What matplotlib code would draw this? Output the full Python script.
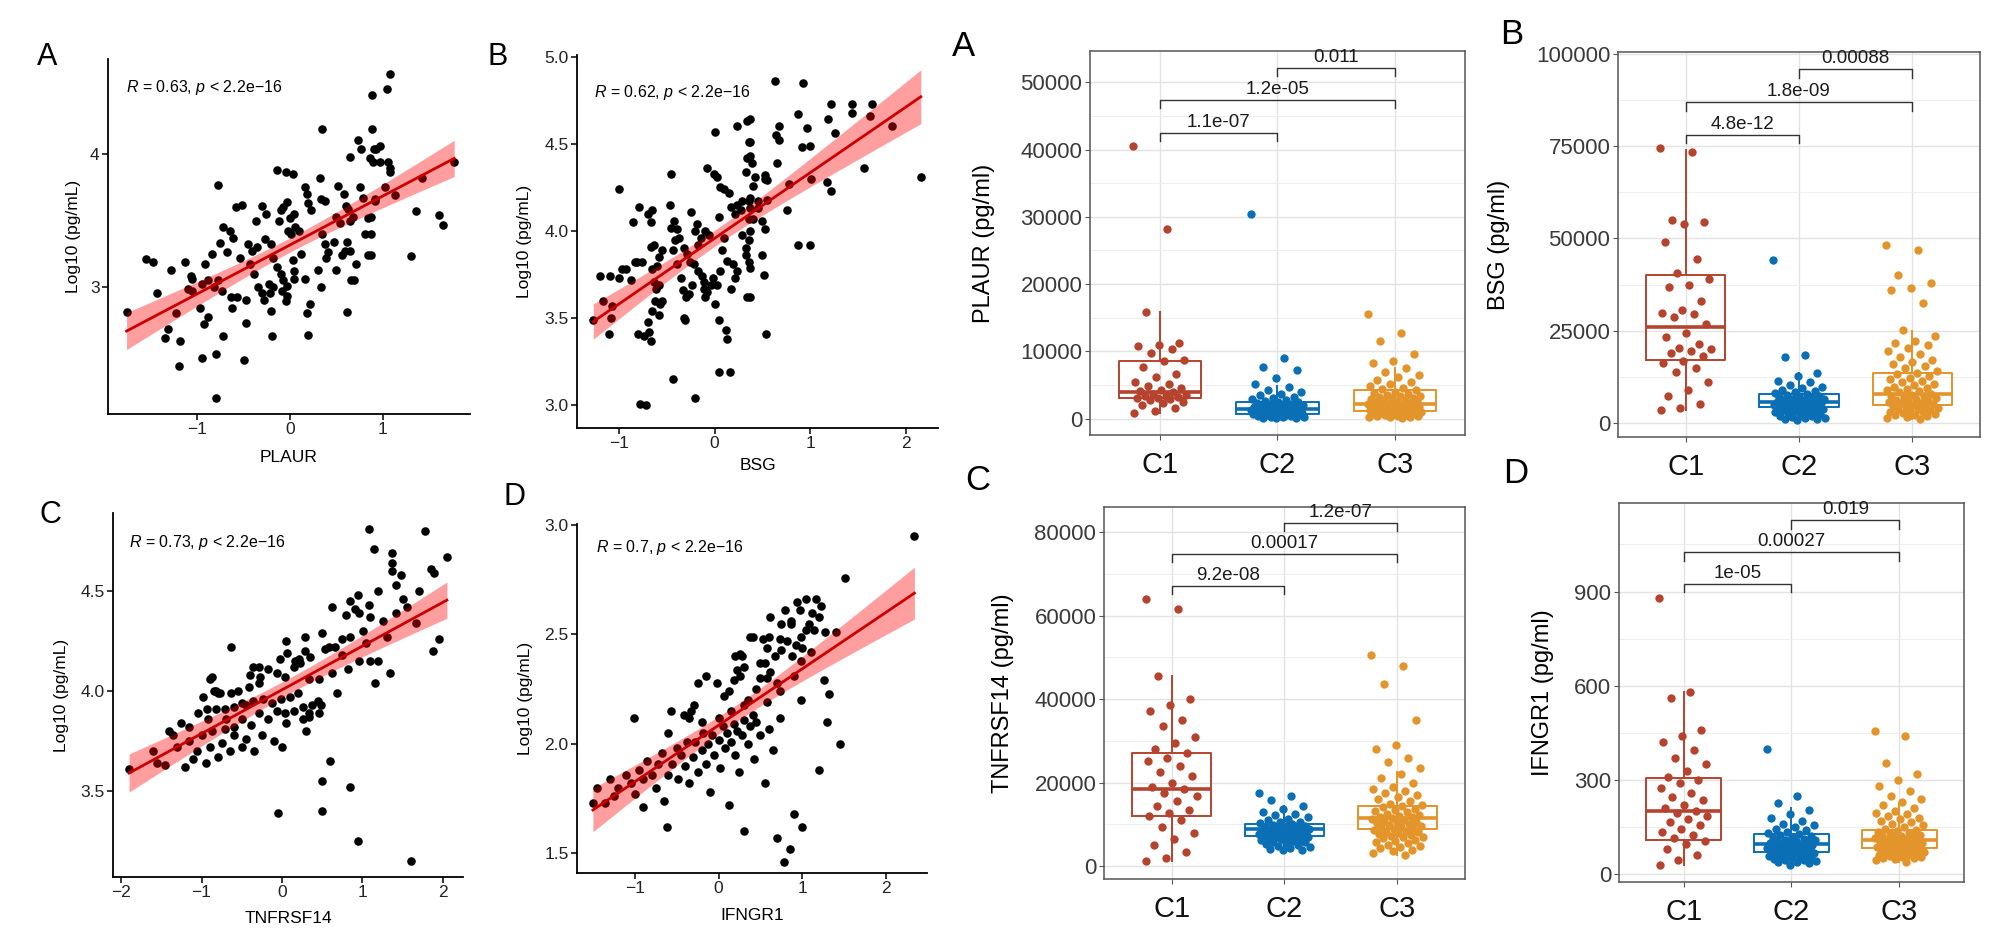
import numpy as np
import matplotlib.pyplot as plt
from matplotlib.ticker import MultipleLocator

plt.rcParams["font.family"] = ["Liberation Sans", "DejaVu Sans"]
plt.rcParams["mathtext.fontset"] = "custom"
plt.rcParams["mathtext.rm"] = "Liberation Sans"
plt.rcParams["mathtext.it"] = "Liberation Sans:italic"

# ---------------- scatter data (x = score, y = Log10 pg/mL) ----------------
plaur_pts = [
    (-1.76, 2.81), (-1.55, 3.21), (-1.47, 3.19), (-1.43, 2.95), (-1.28, 3.13), (-1.31, 2.68), (-1.35, 2.61),
    (-1.18, 2.59), (-1.19, 2.40), (-1.23, 2.80), (-1.13, 3.19), (-1.07, 3.08), (-1.05, 3.06), (-0.97, 2.84),
    (-0.93, 2.72), (-0.88, 2.77), (-0.95, 2.46), (-0.80, 2.49), (-0.91, 3.17), (-0.84, 3.25), (-0.77, 3.77),
    (-0.72, 3.45), (-0.75, 3.33), (-0.68, 3.26), (-0.65, 3.42), (-0.61, 3.37), (-0.77, 3.05), (-0.73, 2.97),
    (-0.72, 2.63), (-0.63, 2.92), (-0.57, 2.92), (-0.62, 2.84), (-0.58, 3.60), (-0.52, 3.62), (-0.54, 3.22),
    (-0.50, 2.45), (-0.47, 2.73), (-0.47, 2.90), (-0.45, 3.32), (-0.41, 3.27), (-0.36, 3.30), (-0.37, 3.50),
    (-0.43, 3.17), (-0.39, 3.10), (-0.34, 3.00), (-0.30, 2.95), (-0.28, 2.90), (-0.30, 3.61), (-0.26, 3.55),
    (-0.27, 3.36), (-0.20, 3.32), (-0.18, 3.22), (-0.19, 2.63), (-0.20, 2.82), (-0.23, 3.02), (-0.21, 2.95),
    (-0.18, 3.00), (-0.14, 3.88), (-0.04, 3.87), (0.03, 3.85), (-0.12, 3.50), (-0.10, 3.58), (-0.07, 3.60),
    (-0.03, 3.64), (0.00, 3.52), (0.04, 3.55), (-0.02, 3.42), (0.01, 3.40), (0.06, 3.45), (0.10, 3.42),
    (-0.10, 3.10), (-0.07, 3.05), (-0.03, 3.01), (-0.09, 2.97), (-0.03, 2.93), (-0.14, 3.15), (-0.04, 2.89),
    (0.03, 3.20), (0.04, 3.12), (0.04, 3.06), (0.12, 3.25), (0.16, 3.06), (0.22, 2.87), (0.18, 2.80),
    (0.20, 2.64), (0.16, 3.75), (0.18, 3.70), (0.20, 3.63), (0.23, 3.58), (0.32, 3.82), (0.35, 4.19),
    (0.34, 3.66), (0.38, 3.65), (0.35, 3.40), (0.38, 3.32), (0.41, 3.26), (0.47, 3.34), (0.30, 3.13),
    (0.34, 3.00), (0.39, 3.22), (0.50, 3.13), (0.52, 3.76), (0.58, 3.70), (0.60, 3.61), (0.63, 3.59),
    (0.50, 3.53), (0.54, 3.48), (0.65, 3.50), (0.68, 3.53), (0.56, 3.24), (0.61, 3.34), (0.65, 3.27),
    (0.59, 3.27), (0.61, 2.81), (0.66, 3.05), (0.69, 3.05), (0.71, 3.17), (0.65, 3.98), (0.73, 4.11),
    (0.77, 4.04), (0.75, 3.75), (0.79, 3.67), (0.81, 3.40), (0.84, 3.52), (0.84, 3.24), (0.88, 4.45),
    (0.88, 4.19), (0.86, 3.97), (0.91, 4.04), (0.92, 3.66), (1.08, 4.61), (1.05, 4.49), (0.93, 4.04),
    (0.97, 4.06), (0.89, 3.94), (0.97, 3.94), (1.06, 3.94), (1.08, 3.90), (1.08, 3.87), (1.02, 3.75),
    (0.92, 3.65), (1.13, 3.69), (1.42, 3.82), (1.36, 3.57), (1.61, 3.54), (1.65, 3.47), (1.30, 3.23),
    (1.77, 3.94), (0.87, 3.53), (0.87, 3.40), (0.87, 3.24), (-0.80, 2.16), (-1.05, 2.97), (-0.95, 3.02),
    (-0.88, 3.05), (-0.82, 3.00), (-1.10, 2.98),
]

bsg_pts = [
    (-1.27, 3.49), (-1.20, 3.74), (-1.17, 3.60), (-1.09, 3.74), (-1.00, 3.73), (-1.08, 3.50), (-1.10, 3.41),
    (-1.00, 4.24), (-1.07, 3.57), (-0.97, 3.78), (-0.93, 3.78), (-0.87, 3.72), (-0.83, 3.82), (-0.85, 4.05),
    (-0.79, 4.14), (-0.81, 3.82), (-0.76, 3.82), (-0.80, 3.41), (-0.74, 3.40), (-0.69, 3.42), (-0.67, 3.37),
    (-0.70, 3.48), (-0.65, 3.54), (-0.62, 3.60), (-0.70, 4.10), (-0.65, 4.12), (-0.67, 4.05), (-0.67, 3.91),
    (-0.63, 3.92), (-0.65, 3.78), (-0.60, 3.80), (-0.58, 3.85), (-0.55, 3.89), (-0.63, 3.71), (-0.61, 3.67),
    (-0.58, 3.69), (-0.57, 3.58), (-0.58, 3.52), (-0.55, 3.60), (-0.46, 4.33), (-0.47, 4.15), (-0.43, 3.15),
    (-0.46, 4.02), (-0.42, 4.06), (-0.39, 4.01), (-0.41, 3.95), (-0.44, 3.89), (-0.39, 3.81), (-0.35, 3.73),
    (-0.33, 3.66), (-0.37, 3.96), (-0.32, 3.90), (-0.29, 3.87), (-0.26, 3.82), (-0.32, 3.50), (-0.30, 3.62),
    (-0.27, 3.64), (-0.24, 3.69), (-0.31, 3.49), (-0.25, 4.11), (-0.18, 4.04), (-0.20, 4.00), (-0.14, 3.96),
    (-0.22, 3.81), (-0.17, 3.77), (-0.13, 3.74), (-0.11, 3.71), (-0.11, 3.67), (-0.17, 3.92), (-0.10, 4.00),
    (-0.06, 3.98), (-0.10, 3.62), (-0.08, 3.65), (-0.04, 3.69), (-0.02, 3.73), (0.01, 4.57), (-0.08, 4.36),
    (-0.01, 4.33), (0.03, 4.31), (0.06, 4.25), (0.10, 4.24), (0.15, 4.22), (0.17, 4.14), (0.21, 4.10),
    (0.24, 4.15), (0.28, 4.12), (0.05, 4.08), (0.10, 3.96), (0.08, 3.89), (0.13, 3.83), (0.19, 3.81),
    (0.06, 3.77), (0.03, 3.69), (0.01, 3.58), (0.05, 3.49), (0.12, 3.43), (0.13, 3.38), (0.05, 3.19),
    (0.16, 3.19), (0.17, 3.67), (0.21, 3.73), (0.24, 3.77), (0.24, 4.60), (0.34, 4.63), (0.36, 4.51),
    (0.34, 4.42), (0.33, 4.34), (0.36, 4.17), (0.36, 4.07), (0.36, 3.95), (0.36, 3.82), (0.34, 3.62),
    (0.63, 4.86), (0.93, 4.85), (1.22, 4.73), (1.44, 4.73), (1.65, 4.73), (1.44, 4.68), (0.87, 4.67),
    (1.19, 4.64), (0.97, 4.59), (1.26, 4.56), (1.63, 4.66), (0.68, 4.60), (0.64, 4.55), (0.68, 4.52),
    (0.92, 4.48), (1.00, 4.49), (0.37, 4.64), (0.37, 4.51), (0.37, 4.43), (0.39, 4.39), (0.65, 4.39),
    (0.42, 4.31), (0.53, 4.32), (0.55, 4.29), (0.40, 4.26), (0.53, 4.30), (0.78, 4.27), (1.01, 4.30),
    (1.18, 4.28), (1.22, 4.23), (0.37, 4.19), (0.45, 4.17), (0.55, 4.18), (0.37, 4.13), (0.46, 4.13),
    (0.40, 4.07), (0.50, 4.06), (0.76, 4.12), (0.37, 4.00), (0.53, 4.01), (0.33, 3.90), (0.87, 3.92),
    (1.00, 3.92), (1.56, 4.36), (1.86, 4.60), (2.16, 4.31), (0.37, 3.79), (0.52, 3.75), (0.50, 3.86),
    (0.33, 3.86), (0.54, 3.41), (0.37, 3.62), (0.29, 4.17), (0.29, 3.98), (-0.78, 3.01), (-0.72, 3.00),
    (-0.20, 3.04),
]

tnfrsf14_pts = [
    (1.08, 4.81), (1.78, 4.80), (2.05, 4.67), (1.14, 4.71), (1.37, 4.69), (1.37, 4.64), (1.37, 4.60),
    (1.48, 4.58), (1.42, 4.53), (1.85, 4.61), (1.89, 4.59), (1.19, 4.50), (0.62, 4.42), (0.84, 4.45),
    (0.95, 4.48), (1.08, 4.43), (1.10, 4.37), (0.96, 4.39), (0.91, 4.41), (0.80, 4.38), (1.42, 4.39),
    (1.56, 4.42), (1.67, 4.34), (1.95, 4.26), (1.88, 4.20), (0.05, 4.25), (0.29, 4.27), (0.50, 4.29),
    (0.74, 4.26), (0.85, 4.27), (1.01, 4.30), (0.96, 4.15), (1.09, 4.15), (1.19, 4.15), (1.34, 4.09),
    (1.16, 4.04), (0.69, 3.99), (0.82, 4.11), (0.62, 4.09), (0.34, 4.06), (0.46, 4.06), (0.29, 4.20),
    (0.21, 4.16), (0.35, 4.17), (0.53, 4.21), (0.58, 4.22), (0.66, 4.22), (0.49, 3.93), (0.46, 3.89),
    (0.34, 3.87), (0.26, 3.86), (-0.63, 4.22), (-0.29, 4.12), (-0.27, 4.07), (-0.40, 4.08), (-0.36, 4.12),
    (-0.17, 4.11), (-0.06, 4.09), (0.04, 4.07), (0.15, 4.12), (0.23, 4.14), (-0.02, 4.16), (0.06, 4.19),
    (0.16, 4.15), (-0.87, 4.07), (-0.98, 3.97), (-0.82, 4.00), (-0.77, 3.99), (-0.63, 3.99), (-0.55, 4.00),
    (-0.41, 4.02), (-0.28, 4.04), (-1.04, 3.89), (-0.93, 3.91), (-0.82, 3.91), (-0.71, 3.91), (-0.60, 3.92),
    (-0.50, 3.94), (-0.36, 3.95), (-0.23, 3.96), (-0.12, 3.94), (-0.01, 3.96), (0.10, 3.97), (0.20, 3.99),
    (-0.28, 3.89), (-0.17, 3.86), (-0.06, 3.90), (0.04, 3.89), (0.15, 3.90), (0.26, 3.92), (0.37, 3.93),
    (0.45, 3.95), (0.05, 3.84), (0.34, 3.89), (-0.50, 3.86), (-0.39, 3.83), (-0.60, 3.82), (-0.71, 3.81),
    (-0.87, 3.80), (-0.92, 3.86), (-0.90, 4.06), (-0.85, 4.00), (-0.80, 3.99), (-1.90, 3.61), (-1.55, 3.64),
    (-1.45, 3.63), (-1.20, 3.62), (-1.30, 3.72), (-1.15, 3.75), (-1.05, 3.70), (-1.00, 3.78), (-0.90, 3.72),
    (-0.80, 3.67), (-0.75, 3.74), (-0.65, 3.70), (-0.60, 3.78), (-0.50, 3.72), (-0.45, 3.76), (-0.35, 3.70),
    (-0.25, 3.78), (-0.10, 3.75), (0.00, 3.72), (0.30, 3.80), (-1.10, 3.66), (-0.95, 3.64), (-1.60, 3.70),
    (-1.35, 3.78), (-1.25, 3.84), (-1.15, 3.82), (-1.40, 3.80), (0.50, 3.55), (0.50, 3.40), (-0.05, 3.39),
    (0.85, 3.52), (0.95, 3.25), (1.60, 3.15), (0.60, 3.65), (1.50, 4.46), (1.70, 4.50), (1.25, 4.35),
    (1.30, 4.27), (1.05, 4.24), (0.75, 4.18), (-0.45, 3.93), (-0.70, 3.86),
]

ifngr1_pts = [
    (-1.01, 2.12), (-0.57, 2.15), (-0.41, 2.13), (-0.33, 2.15), (-0.29, 2.18), (-0.25, 2.28), (-0.15, 2.31),
    (-0.02, 2.28), (0.06, 2.22), (0.12, 2.24), (0.18, 2.29), (0.20, 2.40), (0.28, 2.40), (0.22, 2.34),
    (0.26, 2.31), (0.30, 2.35), (0.30, 2.18), (0.38, 2.49), (2.34, 2.95), (1.51, 2.76), (0.94, 2.65),
    (1.04, 2.66), (1.16, 2.66), (0.80, 2.61), (0.97, 2.61), (0.87, 2.56), (1.20, 2.58), (1.14, 2.52),
    (1.04, 2.52), (0.99, 2.49), (0.75, 2.55), (0.87, 2.55), (1.27, 2.51), (1.40, 2.51), (0.41, 2.49),
    (0.60, 2.49), (0.73, 2.48), (0.53, 2.48), (0.75, 2.43), (0.88, 2.40), (0.99, 2.38), (0.58, 2.44),
    (0.26, 2.41), (0.55, 2.37), (0.50, 2.37), (0.58, 2.30), (1.26, 2.29), (1.32, 2.23), (0.99, 2.20),
    (0.74, 2.24), (0.58, 2.19), (0.41, 2.13), (0.74, 2.12), (-1.50, 1.73), (-1.45, 1.80), (-1.30, 1.84),
    (-1.25, 1.76), (-1.20, 1.80), (-1.10, 1.86), (-1.05, 1.82), (-1.00, 1.77), (-0.95, 1.88), (-0.90, 1.84),
    (-0.85, 1.92), (-0.80, 1.86), (-0.75, 1.80), (-0.72, 1.91), (-0.68, 1.96), (-0.65, 1.74), (-0.60, 1.86),
    (-0.55, 1.91), (-0.50, 1.98), (-0.48, 1.84), (-0.45, 1.95), (-0.40, 1.90), (-0.38, 2.01), (-0.35, 1.82),
    (-0.30, 1.94), (-0.28, 2.01), (-0.25, 1.87), (-0.20, 1.97), (-0.18, 2.05), (-0.15, 1.91), (-0.12, 2.00),
    (-0.10, 1.78), (-0.08, 2.04), (-0.05, 1.95), (0.00, 2.02), (0.02, 1.89), (0.05, 2.08), (0.08, 1.98),
    (0.10, 2.05), (0.12, 1.72), (0.15, 2.01), (0.18, 2.09), (0.20, 1.95), (0.22, 2.06), (0.25, 1.87),
    (0.28, 2.04), (0.30, 2.11), (0.35, 2.00), (0.38, 2.08), (0.42, 1.93), (0.45, 2.10), (0.50, 2.04),
    (0.55, 1.82), (0.60, 2.07), (0.65, 1.97), (-0.62, 1.62), (-0.90, 1.71), (-1.35, 1.73), (0.30, 1.60),
    (0.70, 1.57), (0.85, 1.52), (1.00, 1.62), (0.78, 1.46), (1.20, 1.88), (1.45, 2.00), (0.90, 1.68),
    (1.30, 2.10), (-0.60, 2.05), (-0.35, 2.12), (0.45, 2.25), (0.62, 2.33), (0.68, 2.40), (0.82, 2.47),
    (0.92, 2.45), (1.08, 2.55), (1.12, 2.60), (1.22, 2.63), (0.70, 2.28), (0.50, 2.30), (0.90, 2.31),
    (1.10, 2.42), (0.35, 2.20), (0.15, 2.15), (0.00, 2.12), (-0.20, 2.10), (0.62, 2.58), (1.00, 2.44),
]

scatter_names = ["PLAUR", "BSG", "TNFRSF14", "IFNGR1"]
scatter_r = ["0.63", "0.62", "0.73", "0.7"]

# ---------------- box plot data (pg/ml) per cluster ----------------
groups = ["C1", "C2", "C3"]
colors = ["#B5432E", "#0A6FB4", "#E3942A"]

plaur_c1 = [40500, 28200, 15900, 11200, 11000, 10800, 10400, 9800, 8700, 8500, 7600, 6700, 6200, 5500, 5200,
            4800, 4500, 4300, 4100, 3900, 3700, 3500, 3400, 3300, 3200, 3100, 3000, 2900, 2700, 2500, 2300,
            2000, 1600, 1200, 800]
plaur_c2 = [30400, 9000, 7700, 7300, 6000, 5200, 4700, 4300, 4000, 3700, 3500, 3200, 3000, 2900, 2800, 2600,
            2500, 2400, 2300, 2200, 2100, 2000, 1950, 1900, 1850, 1800, 1700, 1650, 1600, 1550, 1500, 1450,
            1400, 1350, 1300, 1250, 1200, 1150, 1100, 1050, 1000, 950, 900, 850, 800, 750, 700, 650, 600, 550,
            500, 450, 400, 350, 300, 250, 200, 150, 100, 50]
plaur_c3 = [15500, 12800, 11500, 9600, 8600, 8200, 7500, 7000, 6500, 6200, 5800, 5500, 5200, 4900, 4600, 4400,
            4200, 4000, 3800, 3600, 3500, 3400, 3300, 3200, 3100, 3000, 2900, 2800, 2700, 2600, 2500, 2400,
            2300, 2200, 2100, 2050, 2000, 1950, 1900, 1800, 1750, 1700, 1650, 1600, 1500, 1450, 1400, 1350,
            1300, 1250, 1200, 1150, 1100, 1050, 1000, 950, 900, 850, 800, 700, 650, 600, 500, 450, 400, 350,
            300, 250, 200, 100]

bsg_c1 = [74500, 73300, 55000, 54500, 54000, 49000, 44500, 40500, 39000, 37500, 36800, 33000, 30500, 29800,
          29500, 28800, 26800, 24500, 23200, 21500, 20300, 20000, 19600, 19000, 18200, 16800, 16200, 15000,
          13800, 11000, 9000, 7200, 5200, 4200, 3600]
bsg_c2 = [44000, 18500, 17800, 13500, 12800, 11500, 11000, 10200, 9800, 9500, 9000, 8700, 8400, 8100, 7900,
          7600, 7400, 7200, 7000, 6800, 6600, 6500, 6300, 6200, 6000, 5900, 5800, 5600, 5500, 5400, 5200, 5100,
          5000, 4900, 4800, 4600, 4500, 4400, 4300, 4200, 4000, 3900, 3800, 3600, 3500, 3300, 3200, 3000, 2800,
          2600, 2400, 2200, 2000, 1800, 1600, 1500, 1300, 1200, 1000, 900]
bsg_c3 = [48300, 46800, 40200, 37800, 36500, 36000, 32400, 25200, 23500, 22200, 21800, 21000, 20200, 19500,
          18800, 18000, 17200, 16500, 16000, 15500, 14800, 14200, 13600, 13200, 12800, 12300, 11800, 11400,
          11000, 10600, 10200, 9800, 9500, 9200, 8900, 8600, 8300, 8000, 7700, 7400, 7200, 7000, 6800, 6500,
          6300, 6100, 5900, 5700, 5500, 5300, 5100, 4900, 4700, 4500, 4300, 4100, 3900, 3700, 3500, 3300, 3100,
          2900, 2700, 2500, 2300, 2100, 1900, 1700, 1500, 1200]

tnf_c1 = [64000, 61500, 45500, 40000, 38500, 37200, 35000, 33500, 31000, 29500, 28000, 27000, 26000, 25200,
          24000, 22500, 21500, 20000, 19000, 18500, 17500, 16800, 15500, 14500, 13500, 12800, 12000, 11000,
          9500, 8000, 6500, 5000, 3500, 2000, 1200]
tnf_c2 = [17500, 16800, 15800, 14500, 13800, 13000, 12600, 12200, 11800, 11400, 11000, 10700, 10500, 10300,
          10100, 9900, 9700, 9600, 9400, 9300, 9100, 9000, 8900, 8800, 8700, 8600, 8500, 8400, 8300, 8200, 8100,
          8000, 7900, 7800, 7700, 7600, 7500, 7400, 7300, 7200, 7100, 7000, 6900, 6800, 6700, 6600, 6500, 6300,
          6100, 5900, 5700, 5500, 5300, 5000, 4800, 4600, 4400, 4200, 4000, 3800]
tnf_c3 = [50500, 48000, 43500, 35000, 29000, 28000, 26000, 25000, 23500, 22000, 21000, 20000, 19000, 18500,
          18000, 17500, 17000, 16500, 16000, 15500, 15000, 14700, 14400, 14100, 13800, 13500, 13200, 12900,
          12600, 12300, 12100, 11900, 11700, 11500, 11300, 11100, 10900, 10700, 10500, 10300, 10100, 9900,
          9700, 9500, 9300, 9100, 8900, 8700, 8500, 8300, 8100, 7900, 7700, 7500, 7300, 7100, 6900, 6700, 6400,
          6100, 5800, 5500, 5200, 4900, 4600, 4300, 4000, 3600, 3200, 2800]

ifn_c1 = [880, 580, 560, 460, 440, 420, 395, 370, 350, 330, 310, 300, 290, 275, 260, 245, 235, 220, 210, 200,
          195, 185, 175, 165, 155, 145, 135, 125, 115, 105, 95, 80, 60, 45, 30]
ifn_c2 = [400, 250, 225, 205, 190, 180, 170, 160, 155, 150, 145, 140, 135, 130, 127, 124, 121, 118, 115, 112,
          110, 108, 106, 104, 102, 100, 98, 96, 95, 94, 92, 90, 88, 86, 84, 82, 80, 78, 76, 74, 72, 70, 68, 66,
          64, 62, 60, 58, 56, 54, 52, 50, 48, 46, 44, 42, 40, 38, 35, 30]
ifn_c3 = [455, 440, 355, 320, 300, 280, 265, 250, 240, 230, 220, 210, 200, 195, 190, 185, 180, 175, 170, 165,
          160, 155, 150, 145, 140, 137, 134, 131, 128, 125, 122, 120, 118, 116, 114, 112, 110, 108, 106, 104,
          102, 100, 98, 96, 94, 92, 90, 88, 86, 84, 82, 80, 78, 76, 74, 72, 70, 68, 66, 64, 62, 60, 58, 56, 54,
          52, 50, 48, 45, 40]

# box stats: (whisker low, q1, median, q3, whisker high)
plaur_stats = [(800, 3000, 4000, 8600, 15900), (50, 700, 1400, 2400, 4800), (100, 1100, 2100, 4200, 7500)]
bsg_stats = [(3600, 17000, 26000, 40200, 74000), (900, 4300, 5800, 8000, 13500), (1200, 5000, 8000, 13600, 25000)]
tnf_stats = [(1200, 12000, 18500, 27000, 45500), (3800, 7300, 8800, 10200, 14500), (2800, 9000, 11500, 14500, 22500)]
ifn_stats = [(30, 110, 200, 305, 580), (30, 72, 95, 128, 210), (40, 82, 110, 140, 225)]

pairs = [(1, 2), (1, 3), (2, 3)]
plaur_pvals = ["1.1e-07", "1.2e-05", "0.011"]
plaur_brk = [42540, 47440, 52140]
bsg_pvals = ["4.8e-12", "1.8e-09", "0.00088"]
bsg_brk = [77980, 86850, 95800]
tnf_pvals = ["9.2e-08", "0.00017", "1.2e-07"]
tnf_brk = [67100, 74670, 82150]
ifn_pvals = ["1e-05", "0.00027", "0.019"]
ifn_brk = [924, 1025, 1127]

W, H = 2006, 938
fig = plt.figure(figsize=(W / 100, H / 100), dpi=100)


def px_axes(l, t, r, b):
    return fig.add_axes([l / W, 1 - b / H, (r - l) / W, (b - t) / H])


def scatter_panel(ax, pts, name, r, xlim, ylim, xticks, yticks, yfmt, ylab_x, xlab_y, rpos):
    x, y = np.array(pts).T
    ax.scatter(x, y, s=38, color="black", linewidths=0, zorder=2)
    b, a = np.polyfit(x, y, 1)
    xs = np.linspace(x.min(), x.max(), 100)
    n = len(x)
    s = np.sqrt(np.sum((y - (a + b * x)) ** 2) / (n - 2))
    se = s * np.sqrt(1 / n + (xs - x.mean()) ** 2 / np.sum((x - x.mean()) ** 2))
    ax.fill_between(xs, a + b * xs - 1.97 * se, a + b * xs + 1.97 * se, color="red", alpha=0.38, lw=0, zorder=3)
    ax.plot(xs, a + b * xs, color="#CC0000", lw=2.0, zorder=4)
    ax.set_xlim(*xlim)
    ax.set_ylim(*ylim)
    ax.set_xticks(xticks)
    ax.set_yticks(yticks)
    ax.set_yticklabels([yfmt.format(v) for v in yticks])
    for sp in ["top", "right"]:
        ax.spines[sp].set_visible(False)
    for sp in ["left", "bottom"]:
        ax.spines[sp].set_linewidth(1.3)
    ax.tick_params(length=4, width=1.1, pad=2, labelsize=12.5, labelcolor="#222222")
    ax.set_xlabel(name, fontsize=12.5)
    ax.set_ylabel("Log10 (pg/mL)", fontsize=12.5)
    ax.yaxis.set_label_coords(ylab_x, 0.5)
    ax.xaxis.set_label_coords(0.5, xlab_y)
    ax.text(rpos[0], rpos[1], r"$\it{R}$ = " + r + r", $\it{p}$ < 2.2e−16", transform=ax.transAxes,
            fontsize=11.5, ha="left", va="center")


def box_panel(ax, data, stats, ylim, step, ylabel, brk, pvals, ylab_x):
    for i, (vals, st, col) in enumerate(zip(data, stats, colors), start=1):
        off = (((np.arange(len(vals)) * 0.6180339887) % 1) - 0.5) * 0.46
        ax.scatter(i + off, vals, s=36, color=col, linewidths=0, zorder=2)
        ax.bxp([dict(whislo=st[0], q1=st[1], med=st[2], q3=st[3], whishi=st[4], fliers=[])],
               positions=[i], widths=0.7, showfliers=False, showcaps=False, zorder=3,
               boxprops=dict(color=col, lw=1.4), whiskerprops=dict(color=col, lw=1.4),
               medianprops=dict(color=col, lw=2.6))
    span = ylim[1] - ylim[0]
    tip = 0.022 * span
    for (g1, g2), h, lab in zip(pairs, brk, pvals):
        ax.plot([g1, g1, g2, g2], [h - tip, h, h, h - tip], color="#333333", lw=1.0, zorder=4)
        ax.annotate(lab, ((g1 + g2) / 2, h), xytext=(0, 7.6), textcoords="offset points",
                    ha="center", va="center", fontsize=13.5, color="#1A1A1A")
    ax.set_xlim(0.4, 3.6)
    ax.set_ylim(*ylim)
    ax.set_xticks([1, 2, 3])
    ax.set_xticklabels(groups)
    ax.yaxis.set_major_locator(MultipleLocator(step))
    ax.yaxis.set_minor_locator(MultipleLocator(step / 2))
    ax.grid(True, which="major", color="#E3E3E3", lw=1.0)
    ax.grid(True, which="minor", axis="y", color="#EEEEEE", lw=0.7)
    ax.set_axisbelow(True)
    for sp in ax.spines.values():
        sp.set_color("#555555")
        sp.set_linewidth(1.1)
    ax.tick_params(axis="y", which="major", length=3.5, color="#555555", pad=2, labelsize=16,
                   labelcolor="#3A3A3A")
    ax.tick_params(axis="y", which="minor", length=0)
    ax.tick_params(axis="x", length=3.5, color="#555555", pad=8, labelsize=21, labelcolor="#111111")
    ax.set_ylabel(ylabel, fontsize=17)
    ax.yaxis.set_label_coords(ylab_x, 0.5)


# ---------------- scatter panels ----------------
axA = px_axes(108, 59, 470, 414)
scatter_panel(axA, plaur_pts, scatter_names[0], scatter_r[0], (-1.96, 1.94), (2.04, 4.72),
              [-1, 0, 1], [3, 4], "{:.0f}", -0.075, -0.10, (0.05, 0.921))
axB = px_axes(577, 55, 938, 428)
scatter_panel(axB, bsg_pts, scatter_names[1], scatter_r[1], (-1.44, 2.34), (2.87, 5.01),
              [-1, 0, 1, 2], [3.0, 3.5, 4.0, 4.5, 5.0], "{:.1f}", -0.125, -0.08, (0.047, 0.90))
axC = px_axes(113, 513, 463, 877)
scatter_panel(axC, tnfrsf14_pts, scatter_names[2], scatter_r[2], (-2.1, 2.25), (3.07, 4.89),
              [-2, -1, 0, 1, 2], [3.5, 4.0, 4.5], "{:.1f}", -0.127, -0.093, (0.046, 0.92))
axD = px_axes(577, 524, 927, 873)
scatter_panel(axD, ifngr1_pts, scatter_names[3], scatter_r[3], (-1.69, 2.49), (1.41, 3.005),
              [-1, 0, 1, 2], [1.5, 2.0, 2.5, 3.0], "{:.1f}", -0.125, -0.10, (0.054, 0.934))

# ---------------- box panels ----------------
bA = px_axes(1090, 51, 1465, 435)
box_panel(bA, [plaur_c1, plaur_c2, plaur_c3], plaur_stats, (-2440, 54670), 10000, "PLAUR (pg/ml)",
          plaur_brk, plaur_pvals, -0.253)
bB = px_axes(1618, 52, 1980, 437)
box_panel(bB, [bsg_c1, bsg_c2, bsg_c3], bsg_stats, (-3770, 100430), 25000, "BSG (pg/ml)",
          bsg_brk, bsg_pvals, -0.298)
bC = px_axes(1104, 507, 1465, 879)
box_panel(bC, [tnf_c1, tnf_c2, tnf_c3], tnf_stats, (-3050, 85970), 20000, "TNFRSF14 (pg/ml)",
          tnf_brk, tnf_pvals, -0.248)
bD = px_axes(1619, 503, 1964, 882)
box_panel(bD, [ifn_c1, ifn_c2, ifn_c3], ifn_stats, (-25, 1182), 300, "IFNGR1 (pg/ml)",
          ifn_brk, ifn_pvals, -0.188)

# ---------------- panel letters ----------------
for lab, xp, yp, fs in [("A", 47, 57, 22), ("B", 498, 57, 22), ("C", 50, 515, 22), ("D", 514, 497, 22),
                        ("A", 964, 46, 25), ("B", 1512, 34, 25), ("C", 978, 480, 25), ("D", 1516, 473, 25)]:
    fig.text(xp / W, 1 - yp / H, lab, fontsize=fs, ha="center", va="center")

fig.savefig("out.png", dpi=100)
